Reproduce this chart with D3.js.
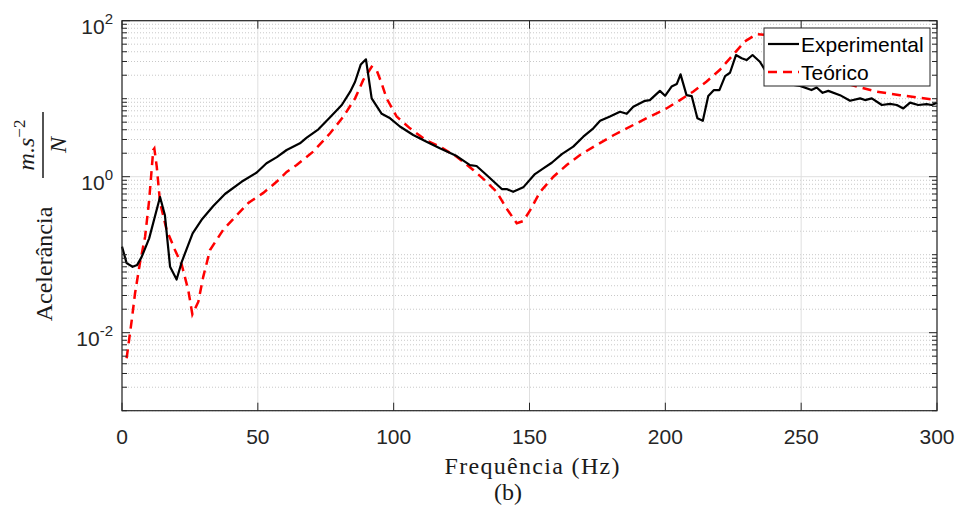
<!DOCTYPE html>
<html>
<head>
<meta charset="utf-8">
<script src="https://cdn.jsdelivr.net/npm/d3@7"></script>
<style>
  body { margin: 0; background: #fff; }
  svg { display: block; }
</style>
</head>
<body>
<script>
// measured curves (Hz, m.s^-2/N)
var freqExp = [0, 1.7, 3.9, 5.6, 7.2, 10, 14, 15.8, 17.7, 20.1, 22, 26, 29.3, 33.6, 37.9, 44, 49.6, 53.2, 57, 60.6,
  65.5, 68, 72.3, 76.6, 80.9, 84, 85.8, 87.9, 89.8, 91.9, 95.6, 98.7, 102.3, 107.2, 112.1, 117, 123.2, 128.1, 130.5, 134.2,
  139.8, 141.6, 144, 147.7, 152, 155.1, 158.2, 161.9, 166.1, 169.8, 173.5, 176, 179.6, 183.3, 185.8, 188.2, 192.5, 194.3, 198, 199.9,
  202.3, 204.2, 205.6, 207.8, 209.7, 211.8, 213.8, 215.8, 217.9, 219.9, 222, 223.8, 226, 228.1, 229.9, 232.1, 234.8, 236.7, 240, 244,
  247.2, 249.6, 253.8, 255.7, 257.9, 260, 264.3, 268, 271.7, 273.5, 276, 279.7, 282.7, 285.2, 287.6, 290.1, 293.1, 296.2, 298, 300];
var accExp = [0.127, 0.078, 0.070, 0.074, 0.093, 0.162, 0.55, 0.32, 0.07, 0.048, 0.081, 0.188, 0.28, 0.42, 0.60, 0.86, 1.13, 1.49, 1.78, 2.2,
  2.68, 3.16, 4.05, 5.8, 8.3, 12.3, 16.5, 27.5, 32, 10.1, 6.4, 5.6, 4.4, 3.43, 2.81, 2.31, 1.84, 1.41, 1.37, 1.05,
  0.695, 0.695, 0.64, 0.73, 1.08, 1.28, 1.51, 1.95, 2.43, 3.26, 4.17, 5.2, 5.9, 6.8, 6.4, 7.9, 9.4, 9.6, 12.6, 10.9,
  14.3, 15.4, 20.5, 11.1, 10.8, 5.6, 5.2, 10.8, 12.9, 12.9, 19.5, 21.5, 36.3, 33, 31.3, 36.3, 29.8, 23.3, 18.5, 16.2,
  15, 14.6, 12.9, 13.9, 11.9, 12.6, 11.1, 9.4, 10.1, 9.6, 10.1, 8.3, 8.6, 8.3, 7.5, 8.9, 8.3, 8.5, 8.3, 8.9];

// model curve
var freqTeo = [1.7, 3.6, 4.8, 6.6, 8.5, 10, 11.5, 11.9, 12.8, 14, 16.4, 19.5, 22, 24.4, 25.9, 28.1, 29.9, 32.4, 37.3, 42.2,
  46.5, 52, 56.9, 60.6, 64.3, 70.4, 76.6, 81.5, 85.8, 88.8, 91.9, 93.7, 95.5, 97.4, 101.1, 106, 112.1, 117, 123.2, 129.3,
  134.2, 137.9, 141.6, 145.3, 147.7, 150.2, 153.9, 158.8, 163.7, 168.6, 174.7, 180.9, 188.2, 194.3, 200.4, 205.4, 210.2, 215.1, 220, 224.9,
  229.2, 233.5, 236.5, 240, 246, 255, 263, 270.5, 277.8, 286.4, 300];
var accTeo = [0.0047, 0.0146, 0.032, 0.078, 0.17, 0.5, 2.2, 2.3, 1.34, 0.47, 0.21, 0.115, 0.074, 0.035, 0.0172, 0.025, 0.052, 0.115, 0.21, 0.32,
  0.46, 0.62, 0.86, 1.15, 1.41, 2.1, 3.6, 5.9, 10.1, 17.4, 25.7, 23.3, 16, 10.1, 5.9, 4.17, 2.9, 2.43, 1.8, 1.22,
  0.86, 0.64, 0.39, 0.253, 0.27, 0.37, 0.64, 1.0, 1.41, 1.9, 2.55, 3.4, 4.6, 5.9, 7.5, 9.6, 12.3, 16.5, 23.3, 36.3,
  54, 67, 66, 52, 34, 22, 17, 14.3, 12.3, 11.1, 9.6];

var xTicks = [0, 50, 100, 150, 200, 250, 300];
var yTicks = [1e-2, 1, 1e2];
var yTickExp = ["-2", "0", "2"];
var legendNames = ["Experimental", "Teórico"];

var margin = { top: 20.7, left: 122 },
    width = 815,
    height = 390;

var svg = d3.select("body").append("svg")
    .attr("width", 961)
    .attr("height", 510);

var g = svg.append("g").attr("transform", "translate(" + margin.left + "," + margin.top + ")");

var x = d3.scaleLinear().domain([0, 300]).range([0, width]);
var y = d3.scaleLog().domain([1e-3, 1e2]).range([height, 0]);

// minor values: k*10^n
var minor = [];
for (var e = -3; e < 2; e++) {
  for (var k = 1; k < 10; k++) {
    var v = k * Math.pow(10, e);
    if (yTicks.indexOf(v) < 0 && v > 1e-3) minor.push(v);
  }
}
minor.push(1e-3);

// grid
g.selectAll(".minor-grid").data(minor).enter().append("line")
    .attr("x1", 0).attr("x2", width)
    .attr("y1", function(d) { return y(d); }).attr("y2", function(d) { return y(d); })
    .attr("stroke", "#c8c8c8").attr("stroke-width", 1).attr("stroke-dasharray", "1,2");

g.selectAll(".major-gridy").data(yTicks).enter().append("line")
    .attr("x1", 0).attr("x2", width)
    .attr("y1", function(d) { return y(d); }).attr("y2", function(d) { return y(d); })
    .attr("stroke", "#dfdfdf").attr("stroke-width", 1);

g.selectAll(".major-gridx").data(xTicks).enter().append("line")
    .attr("y1", 0).attr("y2", height)
    .attr("x1", function(d) { return x(d); }).attr("x2", function(d) { return x(d); })
    .attr("stroke", "#dfdfdf").attr("stroke-width", 1);

// curves
var lineExp = d3.line()
    .x(function(d, i) { return x(freqExp[i]); })
    .y(function(d) { return y(d); });
var lineTeo = d3.line()
    .x(function(d, i) { return x(freqTeo[i]); })
    .y(function(d) { return y(d); });

g.append("path").datum(accTeo)
    .attr("d", lineTeo)
    .attr("fill", "none")
    .attr("stroke", "#ff0000")
    .attr("stroke-width", 2.5)
    .attr("stroke-dasharray", "9,6");

g.append("path").datum(accExp)
    .attr("d", lineExp)
    .attr("fill", "none")
    .attr("stroke", "#000")
    .attr("stroke-width", 2.2)
    .attr("stroke-linejoin", "round");

// box + ticks
var axisColor = "#262626";
g.append("rect")
    .attr("width", width).attr("height", height)
    .attr("fill", "none").attr("stroke", axisColor).attr("stroke-width", 1.2);

[0, width].forEach(function(side) {
  var dir = side == 0 ? 1 : -1;
  g.selectAll(null).data(yTicks).enter().append("line")
      .attr("x1", side).attr("x2", side + dir * 8)
      .attr("y1", function(d) { return y(d); }).attr("y2", function(d) { return y(d); })
      .attr("stroke", axisColor);
  g.selectAll(null).data(minor).enter().append("line")
      .attr("x1", side).attr("x2", side + dir * 5)
      .attr("y1", function(d) { return y(d); }).attr("y2", function(d) { return y(d); })
      .attr("stroke", axisColor);
});
[0, height].forEach(function(side) {
  var dir = side == 0 ? 1 : -1;
  g.selectAll(null).data(xTicks).enter().append("line")
      .attr("y1", side).attr("y2", side + dir * 8)
      .attr("x1", function(d) { return x(d); }).attr("x2", function(d) { return x(d); })
      .attr("stroke", axisColor);
});

// tick labels
g.selectAll(".xlab").data(xTicks).enter().append("text")
    .attr("x", function(d) { return x(d); })
    .attr("y", height + 33)
    .attr("text-anchor", "middle")
    .attr("font-family", "Liberation Sans, Arial, sans-serif")
    .attr("font-size", 21)
    .attr("fill", axisColor)
    .text(function(d) { return d; });

var ylab = g.selectAll(".ylab").data(yTicks).enter().append("text")
    .attr("x", -9)
    .attr("y", function(d) { return y(d) + 13; })
    .attr("text-anchor", "end")
    .attr("font-family", "Liberation Sans, Arial, sans-serif")
    .attr("font-size", 21)
    .attr("fill", axisColor);
ylab.append("tspan").text("10");
ylab.append("tspan")
    .attr("dy", -10)
    .attr("font-size", 15)
    .text(function(d, i) { return yTickExp[i]; });

// axis titles
var serif = "Liberation Serif, Times New Roman, serif";
svg.append("text")
    .attr("x", 532).attr("y", 474)
    .attr("text-anchor", "middle")
    .attr("font-family", serif).attr("font-size", 24)
    .attr("textLength", 175).attr("lengthAdjust", "spacing")
    .attr("fill", "#1a1a1a")
    .text("Frequência (Hz)");

svg.append("text")
    .attr("x", 508).attr("y", 500)
    .attr("text-anchor", "middle")
    .attr("font-family", serif).attr("font-size", 24)
    .attr("fill", "#1a1a1a")
    .text("(b)");

var yt = svg.append("g").attr("transform", "rotate(-90)");
yt.append("text")
    .attr("x", -264).attr("y", 52)
    .attr("text-anchor", "middle")
    .attr("font-family", serif).attr("font-size", 24)
    .attr("fill", "#1a1a1a")
    .text("Acelerância");
yt.append("line")
    .attr("x1", -178).attr("x2", -112)
    .attr("y1", 43).attr("y2", 43)
    .attr("stroke", "#1a1a1a").attr("stroke-width", 1.5);
var num = yt.append("text")
    .attr("x", -145).attr("y", 34)
    .attr("text-anchor", "middle")
    .attr("font-family", serif).attr("font-size", 24)
    .attr("font-style", "italic")
    .attr("fill", "#1a1a1a");
num.append("tspan").text("m.s");
num.append("tspan").attr("dy", -9).attr("font-size", 17).attr("font-style", "normal").text("−2");
yt.append("text")
    .attr("x", -145).attr("y", 66)
    .attr("text-anchor", "middle")
    .attr("font-family", serif).attr("font-size", 24)
    .attr("font-style", "italic")
    .attr("fill", "#1a1a1a")
    .text("N");

// legend
var leg = svg.append("g").attr("transform", "translate(764,28)");
leg.append("rect")
    .attr("width", 166).attr("height", 58)
    .attr("fill", "#fff").attr("stroke", axisColor).attr("stroke-width", 1);
var legRows = leg.selectAll(".row").data(legendNames).enter().append("g")
    .attr("transform", function(d, i) { return "translate(0," + (16 + i * 28) + ")"; });
legRows.append("line")
    .attr("x1", 4).attr("x2", 35)
    .attr("stroke", function(d, i) { return i == 0 ? "#000" : "#ff0000"; })
    .attr("stroke-width", function(d, i) { return i == 0 ? 2.2 : 2.5; })
    .attr("stroke-dasharray", function(d, i) { return i == 0 ? null : "9,6"; });
legRows.append("text")
    .attr("x", 37).attr("y", 7.5)
    .attr("font-family", "Liberation Sans, Arial, sans-serif")
    .attr("font-size", 21)
    .attr("fill", "#000")
    .text(function(d) { return d; });
</script>
</body>
</html>
